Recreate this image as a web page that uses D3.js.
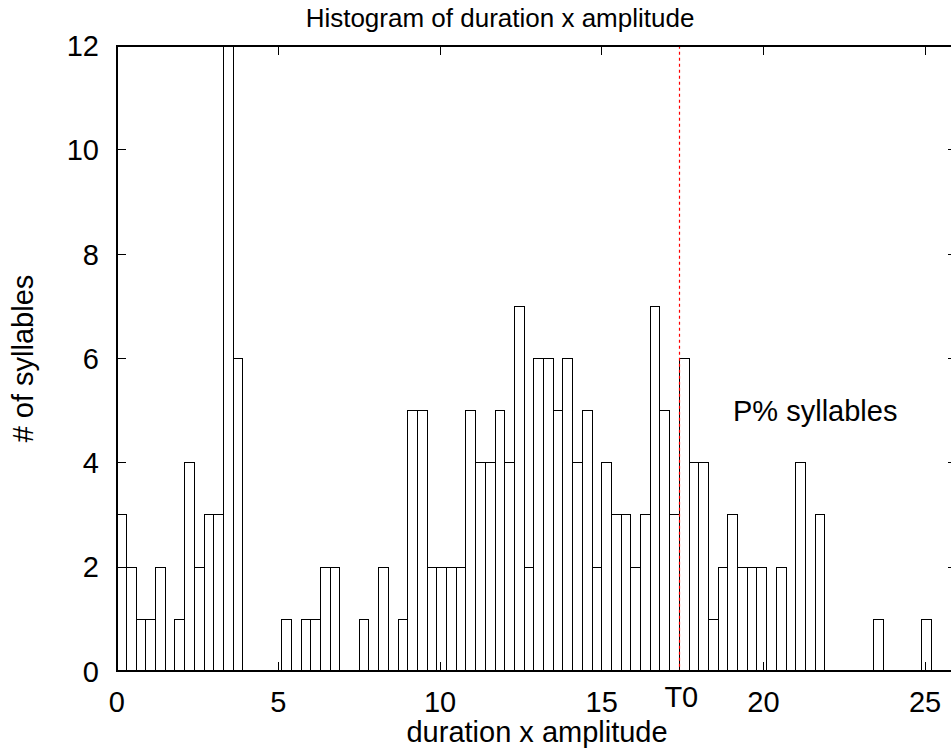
<!DOCTYPE html>
<html>
<head>
<meta charset="utf-8">
<script src="https://cdn.jsdelivr.net/npm/d3@7"></script>
<style>
  html, body { margin: 0; padding: 0; background: #fff; }
  svg { display: block; }
  text { font-family: "Liberation Sans", Arial, Helvetica, sans-serif; fill: #000; }
</style>
</head>
<body>
<svg id="chart" width="951" height="749"></svg>
<script>
// ---- data ----
const titleText = "Histogram of duration x amplitude";
const xLabelText = "duration x amplitude";
const yLabelText = "# of syllables";
const noteText = "P% syllables";
const binWidth = 0.3;
// counts per bin, bin i covers [i*binWidth, (i+1)*binWidth)
const counts = [
  3, 2, 1, 1, 2, 0, 1, 4, 2, 3,
  3, 12, 6, 0, 0, 0, 0, 1, 0, 1,
  1, 2, 2, 0, 0, 1, 0, 2, 0, 1,
  5, 5, 2, 2, 2, 2, 5, 4, 4, 5,
  4, 7, 2, 6, 6, 5, 6, 4, 5, 2,
  4, 3, 3, 2, 3, 7, 5, 3, 6, 4,
  4, 1, 2, 3, 2, 2, 2, 0, 2, 0,
  4, 0, 3, 0, 0, 0, 0, 0, 1, 0,
  0, 0, 0, 1
];
const xTicks = [0, 5, 10, 15, 20, 25];
const yTicks = [0, 2, 4, 6, 8, 10, 12];
const thresholdValue = 17.4;
const thresholdLabel = "T0";
const xDomain = [0, 26];
const yDomain = [0, 12];

// ---- layout ----
(function () {
const svg = d3.select("#chart");
const pL = 116.7, pR = 957.4, pT = 45.7, pB = 671.3;
const x = d3.scaleLinear().domain(xDomain).range([pL, pR]);
const y = d3.scaleLinear().domain(yDomain).range([pB, pT]);
const fs = 29;
const tickLen = 9.3;

const bins = counts.map((c, i) => ({x0: i * binWidth, x1: (i + 1) * binWidth, c}));

// bars
svg.append("g").attr("shape-rendering", "crispEdges")
  .selectAll("rect").data(bins).join("rect")
  .attr("x", d => x(d.x0))
  .attr("y", d => y(d.c))
  .attr("width", d => x(d.x1) - x(d.x0))
  .attr("height", d => y(0) - y(d.c))
  .attr("fill", "none")
  .attr("stroke", "#000")
  .attr("stroke-width", 1);

// ticks (inward, mirrored)
const tg = svg.append("g").attr("stroke", "#000").attr("stroke-width", 1)
  .attr("shape-rendering", "crispEdges");
yTicks.forEach(v => {
  tg.append("line").attr("x1", pL).attr("x2", pL + tickLen).attr("y1", y(v)).attr("y2", y(v));
  tg.append("line").attr("x1", pR).attr("x2", pR - tickLen).attr("y1", y(v)).attr("y2", y(v));
});
xTicks.forEach(v => {
  tg.append("line").attr("x1", x(v)).attr("x2", x(v)).attr("y1", pB).attr("y2", pB - tickLen);
  tg.append("line").attr("x1", x(v)).attr("x2", x(v)).attr("y1", pT).attr("y2", pT + tickLen);
});

// threshold line
const tx = Math.floor(x(thresholdValue)) + 0.5;
svg.append("line")
  .attr("x1", tx).attr("x2", tx)
  .attr("y1", pT).attr("y2", pB)
  .attr("stroke", "#ff0000").attr("stroke-width", 1.2)
  .attr("stroke-dasharray", "3,3");

// frame
svg.append("rect")
  .attr("x", pL).attr("y", pT)
  .attr("width", pR - pL).attr("height", pB - pT)
  .attr("fill", "none").attr("stroke", "#000").attr("stroke-width", 2)
  .attr("shape-rendering", "crispEdges");

// tick labels
svg.append("g").selectAll("text").data(yTicks).join("text")
  .attr("x", 99).attr("y", d => y(d)).attr("dy", "0.36em")
  .attr("text-anchor", "end").attr("font-size", fs)
  .text(d => d);
svg.append("g").selectAll("text").data(xTicks).join("text")
  .attr("x", d => x(d)).attr("y", 711.7)
  .attr("text-anchor", "middle").attr("font-size", fs)
  .text(d => d);
svg.append("text")
  .attr("x", x(thresholdValue) + 2).attr("y", 706.7)
  .attr("text-anchor", "middle").attr("font-size", fs)
  .text(thresholdLabel);

// labels
svg.append("text")
  .attr("x", 500).attr("y", 27)
  .attr("text-anchor", "middle").attr("font-size", 26)
  .text(titleText);
svg.append("text")
  .attr("x", (pL + pR) / 2).attr("y", 741.5)
  .attr("text-anchor", "middle").attr("font-size", fs)
  .text(xLabelText);
svg.append("text")
  .attr("transform", `translate(33,${(pT + pB) / 2}) rotate(-90)`)
  .attr("text-anchor", "middle").attr("font-size", fs)
  .text(yLabelText);
svg.append("text")
  .attr("x", 733).attr("y", 421)
  .attr("font-size", fs)
  .text(noteText);
})();
</script>
</body>
</html>
